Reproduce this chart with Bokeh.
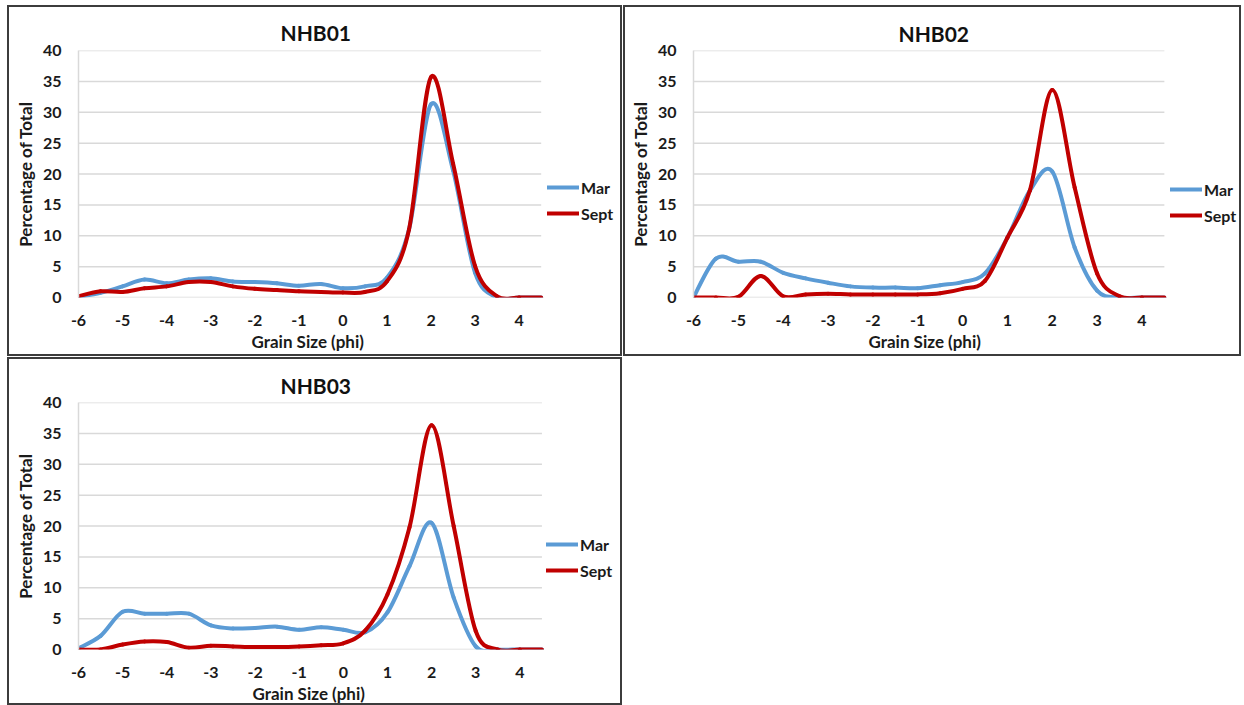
from bokeh.plotting import figure
from bokeh.layouts import column, row
from bokeh.models import Legend, LegendItem, FixedTicker, Range1d, ColumnDataSource, Title
from bokeh.embed import file_html
from bokeh.resources import INLINE

phi = [-6, -5.5, -5, -4.5, -4, -3.5, -3, -2.5, -2, -1.5, -1, -0.5,
       0, 0.5, 1, 1.5, 2, 2.5, 3, 3.5, 4, 4.5]

nhb01_mar = [0.1, 0.75, 1.8, 2.9, 2.3, 2.9, 3.1, 2.6, 2.5, 2.3, 1.9, 2.2,
             1.5, 1.8, 3.2, 11.0, 31.3, 20.6, 4.0, 0.0, 0.0, 0.0]
nhb01_sept = [0.2, 1.0, 0.9, 1.5, 1.8, 2.5, 2.5, 1.8, 1.4, 1.2, 1.0, 0.9,
              0.8, 0.9, 2.6, 11.0, 35.7, 21.7, 5.1, 0.2, 0.0, 0.0]

nhb02_mar = [0.0, 6.3, 5.8, 5.8, 4.0, 3.1, 2.4, 1.8, 1.6, 1.6, 1.5, 2.0,
             2.5, 3.9, 9.7, 17.3, 20.4, 8.1, 1.1, 0.0, 0.0, 0.0]
nhb02_sept = [0.0, 0.0, 0.1, 3.5, 0.2, 0.5, 0.6, 0.5, 0.5, 0.5, 0.5, 0.7,
              1.4, 2.7, 9.7, 17.3, 33.6, 17.8, 3.9, 0.2, 0.0, 0.0]

nhb03_mar = [0.2, 2.2, 6.1, 5.8, 5.8, 5.8, 3.9, 3.4, 3.5, 3.7, 3.2, 3.6,
             3.2, 2.8, 6.0, 13.5, 20.5, 8.4, 0.5, 0.0, 0.0, 0.0]
nhb03_sept = [0.0, 0.0, 0.8, 1.3, 1.2, 0.3, 0.6, 0.5, 0.4, 0.4, 0.5, 0.7,
              1.0, 3.1, 8.9, 19.8, 36.3, 20.0, 3.0, 0.0, 0.0, 0.0]

x_ticks = [-6, -5, -4, -3, -2, -1, 0, 1, 2, 3, 4]
y_ticks = [0, 5, 10, 15, 20, 25, 30, 35, 40]
series_names = ["Mar", "Sept"]
series_colors = ["#5B9BD5", "#C00000"]
x_axis_title = "Grain Size (phi)"
y_axis_title = "Percentage of Total"

FONT = "Lato"
TXT = "#1a1a1a"
X_MIN, X_MAX = -6, 4.5   # extent of the plotted grain-size axis


def smooth_source(xs, ys):
    # Excel-style smoothed line: Catmull-Rom rendered as cubic Bezier segments
    n = len(xs)
    d = dict(x0=[], y0=[], x1=[], y1=[], cx0=[], cy0=[], cx1=[], cy1=[])
    for i in range(n - 1):
        a = i - 1 if i > 0 else i
        b = i + 2 if i + 2 < n else i + 1
        d["x0"].append(xs[i]); d["y0"].append(ys[i])
        d["x1"].append(xs[i + 1]); d["y1"].append(ys[i + 1])
        d["cx0"].append(xs[i] + (xs[i + 1] - xs[a]) / 6.0)
        d["cy0"].append(ys[i] + (ys[i + 1] - ys[a]) / 6.0)
        d["cx1"].append(xs[i + 1] - (xs[b] - xs[i]) / 6.0)
        d["cy1"].append(ys[i + 1] - (ys[b] - ys[i]) / 6.0)
    return ColumnDataSource(d)


def panel(title, mar, sept, width, height, bl, br, bt, bb, x_end,
          title_off, title_standoff, xlab_off, leg_loc):
    p = figure(width=width, height=height, output_backend="svg",
               toolbar_location=None, x_range=Range1d(X_MIN, x_end),
               y_range=Range1d(0, 40), min_border_left=bl,
               min_border_right=br, min_border_top=bt, min_border_bottom=bb)
    p.styles = {"border": "2px solid #3c3c3c", "box-sizing": "border-box"}
    p.outline_line_color = None
    p.background_fill_color = "white"
    p.border_fill_color = "white"

    p.title.text = title
    p.title.align = "left"
    p.title.offset = title_off
    p.title.text_font = FONT
    p.title.text_font_size = "21px"
    p.title.text_font_style = "bold"
    p.title.text_color = "#111111"
    p.title.standoff = title_standoff

    # horizontal gridlines only across the data extent
    p.xgrid.grid_line_color = None
    p.ygrid.grid_line_color = None
    p.segment(x0=[X_MIN] * len(y_ticks), x1=[X_MAX] * len(y_ticks),
              y0=y_ticks, y1=y_ticks, line_color="#D9D9D9", line_width=1.5)

    p.xaxis.ticker = FixedTicker(ticks=x_ticks)
    p.yaxis.ticker = FixedTicker(ticks=y_ticks)
    p.xaxis.major_label_overrides = {t: str(t) for t in x_ticks}
    for ax in (p.xaxis[0], p.yaxis[0]):
        ax.major_tick_line_color = None
        ax.minor_tick_line_color = None
        ax.major_label_text_font = FONT
        ax.major_label_text_font_size = "16px"
        ax.major_label_text_font_style = "bold"
        ax.major_label_text_color = TXT
        ax.axis_label_text_font = FONT
        ax.axis_label_text_font_size = "17px"
        ax.axis_label_text_font_style = "bold"
        ax.axis_label_text_color = TXT
    p.xaxis.axis_line_color = None
    p.yaxis.axis_line_color = "#D9D9D9"
    p.yaxis.axis_line_width = 1.5
    p.yaxis.axis_label = y_axis_title
    p.xaxis.major_label_standoff = 11
    p.yaxis.major_label_standoff = 11
    p.yaxis.axis_label_standoff = 4

    xt = Title(text=x_axis_title, align="left", offset=xlab_off,
               text_font=FONT, text_font_size="17px", text_font_style="bold",
               text_color=TXT, standoff=0)
    p.add_layout(xt, "below")

    items = []
    for name, col, ys in zip(series_names, series_colors, [mar, sept]):
        r = p.bezier("x0", "y0", "x1", "y1", "cx0", "cy0", "cx1", "cy1",
                     source=smooth_source(phi, ys), line_color=col,
                     line_width=4, line_cap="round")
        items.append(LegendItem(label=name, renderers=[r]))
    leg = Legend(items=items, location=leg_loc, orientation="vertical")
    leg.border_line_color = None
    leg.background_fill_alpha = 0
    leg.padding = 0
    leg.margin = 0
    leg.spacing = 6
    leg.glyph_width = 32
    leg.glyph_height = 20
    leg.label_height = 20
    leg.label_standoff = 2
    leg.label_text_font = FONT
    leg.label_text_font_size = "16px"
    leg.label_text_font_style = "bold"
    leg.label_text_color = TXT
    p.add_layout(leg, "center")
    return p


p1 = panel("NHB01", nhb01_mar, nhb01_sept, 615, 351, 69, 4, 43, 59, 6.30,
           202, 11, 173, (469, 74))
p2 = panel("NHB02", nhb02_mar, nhb02_sept, 618, 351, 68, 2, 39, 61, 6.22,
           205, 9, 175, (477, 72))
p3 = panel("NHB03", nhb03_mar, nhb03_sept, 615, 348, 69, 4, 43, 58, 6.28,
           202, 9, 174, (468, 69))

layout = column(row(p1, p2, spacing=1), p3, spacing=1, margin=(5, 0, 0, 7))
open("out.html", "w").write(file_html(layout, INLINE))
